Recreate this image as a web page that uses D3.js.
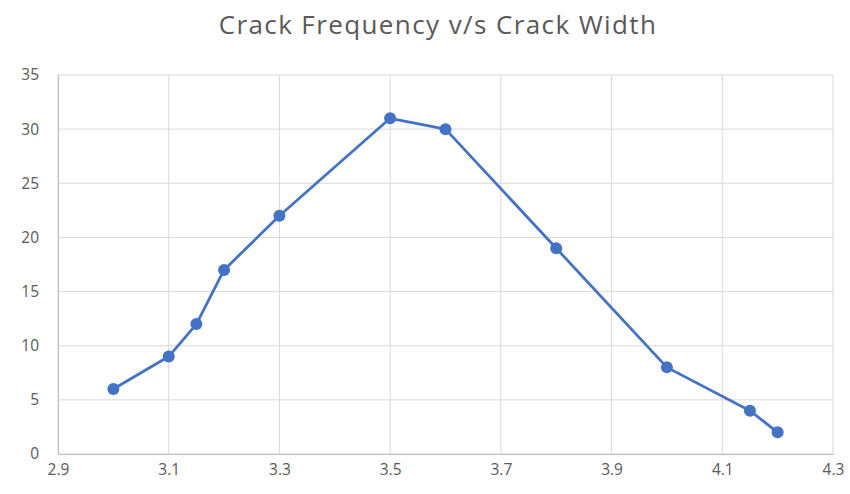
<!DOCTYPE html>
<html>
<head>
<meta charset="utf-8">
<script src="https://cdn.jsdelivr.net/npm/d3@7"></script>
<style>
  body { margin: 0; background: #fff; }
  svg { display: block; }
</style>
</head>
<body>
<svg id="chart" width="850" height="494"></svg>
<script>
const crackWidth = [3.0, 3.1, 3.15, 3.2, 3.3, 3.5, 3.6, 3.8, 4.0, 4.15, 4.2];
const crackFreq = [6, 9, 12, 17, 22, 31, 30, 19, 8, 4, 2];
const xTicks = [2.9, 3.1, 3.3, 3.5, 3.7, 3.9, 4.1, 4.3];
const yTicks = [0, 5, 10, 15, 20, 25, 30, 35];

var svg = d3.select('#chart');
var margin = {left: 58, right: 17, top: 75, bottom: 40};
var width = 850 - margin.left - margin.right;
var height = 494 - margin.top - margin.bottom;

var xs = d3.scaleLinear().domain([2.9, 4.3]).range([0, width]);
var ys = d3.scaleLinear().domain([0, 35]).range([height, 0]);

svg.append('text')
    .attr('x', 438)
    .attr('y', 34)
    .attr('text-anchor', 'middle')
    .style('font-family', 'Open Sans')
    .style('font-size', '26px')
    .style('letter-spacing', '1.4px')
    .style('fill', '#595959')
    .text('Crack Frequency v/s Crack Width');

var g = svg.append('g').attr('transform', 'translate(' + margin.left + ',' + margin.top + ')');

// gridlines
g.selectAll('line.hgrid').data(yTicks).enter().append('line')
    .attr('class', 'hgrid')
    .attr('x1', 0).attr('x2', width)
    .attr('y1', function(d) { return ys(d); })
    .attr('y2', function(d) { return ys(d); })
    .style('stroke', '#d9d9d9').style('stroke-width', 1);

g.selectAll('line.vgrid').data(xTicks).enter().append('line')
    .attr('class', 'vgrid')
    .attr('y1', 0).attr('y2', height)
    .attr('x1', function(d) { return xs(d); })
    .attr('x2', function(d) { return xs(d); })
    .style('stroke', '#d9d9d9').style('stroke-width', 1);

// axes
var xAxis = g.append('g').attr('transform', 'translate(0,' + height + ')')
    .call(d3.axisBottom(xs).tickValues(xTicks).tickSize(0).tickPadding(10).tickFormat(d3.format('.1f')));
var yAxis = g.append('g')
    .call(d3.axisLeft(ys).tickValues(yTicks).tickSize(0).tickPadding(19));

[xAxis, yAxis].forEach(function(a) {
    a.select('.domain').style('stroke', '#bfbfbf');
    a.selectAll('text')
        .style('font-family', 'Open Sans')
        .style('font-size', '15.5px')
        .style('fill', '#595959');
});

var pts = crackWidth.map(function(d, i) { return [d, crackFreq[i]]; });

var line = d3.line()
    .x(function(d) { return xs(d[0]); })
    .y(function(d) { return ys(d[1]); });

g.append('path')
    .datum(pts)
    .attr('d', line)
    .style('fill', 'none')
    .style('stroke', '#4472c4')
    .style('stroke-width', 2.8)
    .style('stroke-linejoin', 'round');

g.selectAll('circle').data(pts).enter().append('circle')
    .attr('cx', function(d) { return xs(d[0]); })
    .attr('cy', function(d) { return ys(d[1]); })
    .attr('r', 6)
    .style('fill', '#4472c4');
</script>
</body>
</html>
